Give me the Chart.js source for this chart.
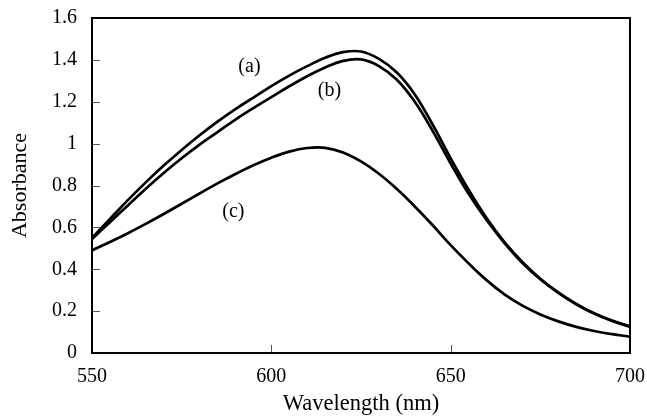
<!DOCTYPE html>
<html>
<head>
<meta charset="utf-8">
<script src="https://cdn.jsdelivr.net/npm/chart.js@4/dist/chart.umd.min.js"></script>
<style>
  html, body { margin: 0; padding: 0; background: #fff; }
</style>
</head>
<body>
<canvas id="chart" width="647" height="418"></canvas>
<script>
// wavelength (nm), sampled every 5 nm
var wavelengths = [550, 555, 560, 565, 570, 575, 580, 585, 590, 595, 600, 605, 610, 615, 620, 625,
                   630, 635, 640, 645, 650, 655, 660, 665, 670, 675, 680, 685, 690, 695, 700];
var absA = [0.55, 0.64, 0.73, 0.815, 0.895, 0.97, 1.04, 1.105, 1.165, 1.22, 1.275, 1.325, 1.37, 1.41, 1.437, 1.44,
            1.405, 1.34, 1.235, 1.09, 0.93, 0.78, 0.645, 0.53, 0.435, 0.355, 0.29, 0.235, 0.19, 0.155, 0.127];
var absB = [0.545, 0.625, 0.705, 0.785, 0.86, 0.93, 0.995, 1.055, 1.115, 1.17, 1.222, 1.274, 1.322, 1.364, 1.395, 1.402,
            1.37, 1.305, 1.20, 1.06, 0.905, 0.76, 0.635, 0.525, 0.43, 0.352, 0.287, 0.233, 0.188, 0.153, 0.125];
var absC = [0.49, 0.53, 0.572, 0.617, 0.664, 0.713, 0.762, 0.81, 0.855, 0.897, 0.933, 0.962, 0.979, 0.98, 0.958, 0.915,
            0.856, 0.783, 0.70, 0.61, 0.515, 0.428, 0.348, 0.28, 0.226, 0.184, 0.151, 0.125, 0.105, 0.09, 0.078];

var xTicks = [550, 600, 650, 700];
var yTicks = [0, 0.2, 0.4, 0.6, 0.8, 1, 1.2, 1.4, 1.6];

// curve labels and where they sit (data units)
var curveNames = ['(a)', '(b)', '(c)'];
var nameX = [593.9, 616.2, 589.4];
var nameY = [1.367, 1.253, 0.675];

function toPoints(ys) {
    return wavelengths.map(function (w, i) { return { x: w, y: ys[i] }; });
}

function lineSet(name, ys) {
    return {
        label: name,
        data: toPoints(ys),
        borderColor: '#000',
        borderWidth: 2.7,
        pointRadius: 0,
        fill: false,
        tension: 0.4
    };
}

// frame, inward tick marks and the curve names
var framePlugin = {
    id: 'frame',
    afterDatasetsDraw: function (chart) {
        var ctx = chart.ctx;
        var area = chart.chartArea;
        var xs = chart.scales.x, ys = chart.scales.y;
        ctx.save();
        ctx.strokeStyle = '#555';
        ctx.lineWidth = 1;
        ctx.beginPath();
        yTicks.forEach(function (v) {
            if (v <= 0 || v >= 1.6) return;
            var y = Math.round(ys.getPixelForValue(v)) + 0.5;
            ctx.moveTo(area.left, y);
            ctx.lineTo(area.left + 8, y);
        });
        xTicks.forEach(function (v) {
            if (v <= 550 || v >= 700) return;
            var x = Math.round(xs.getPixelForValue(v)) + 0.5;
            ctx.moveTo(x, area.bottom);
            ctx.lineTo(x, area.bottom - 8);
        });
        ctx.stroke();

        ctx.strokeStyle = '#000';
        ctx.lineWidth = 2;
        ctx.strokeRect(area.left, area.top, area.right - area.left, area.bottom - area.top);

        ctx.fillStyle = '#000';
        ctx.font = '20px "Liberation Serif"';
        ctx.textAlign = 'center';
        ctx.textBaseline = 'middle';
        curveNames.forEach(function (t, i) {
            ctx.fillText(t, xs.getPixelForValue(nameX[i]), ys.getPixelForValue(nameY[i]));
        });
        ctx.restore();
    }
};

Chart.defaults.font.family = '"Liberation Serif", serif';
Chart.defaults.color = '#000';

var ctx = document.getElementById('chart').getContext('2d');
var chart = new Chart(ctx, {
    type: 'line',
    data: {
        datasets: [lineSet('(a)', absA), lineSet('(b)', absB), lineSet('(c)', absC)]
    },
    options: {
        responsive: false,
        animation: false,
        layout: { padding: { top: 18, right: 17, left: 0, bottom: 0 } },
        plugins: { legend: { display: false }, tooltip: { enabled: false } },
        scales: {
            x: {
                type: 'linear',
                min: 550,
                max: 700,
                afterFit: function (s) {
                    s.height = 65;
                    s.paddingLeft = 0;
                    s.paddingRight = 0;
                },
                afterBuildTicks: function (s) { s.ticks = xTicks.map(function (v) { return { value: v }; }); },
                grid: { display: false, drawTicks: false },
                border: { display: false },
                ticks: { font: { size: 20 }, padding: 12, maxRotation: 0 },
                title: { display: true, text: 'Wavelength (nm)', font: { size: 22.5 }, padding: { top: 0, bottom: 0 } }
            },
            y: {
                min: 0,
                max: 1.6,
                afterFit: function (s) {
                    s.width = 92;
                    s.paddingTop = 0;
                    s.paddingBottom = 0;
                },
                afterBuildTicks: function (s) { s.ticks = yTicks.map(function (v) { return { value: v }; }); },
                grid: { display: false, drawTicks: false },
                border: { display: false },
                ticks: {
                    font: { size: 20 },
                    padding: 15,
                    callback: function (v) { return String(+v.toFixed(1)); }
                },
                title: { display: true, text: 'Absorbance', font: { size: 22 }, padding: { top: 7, bottom: 0 } }
            }
        }
    },
    plugins: [framePlugin]
});
</script>
</body>
</html>
